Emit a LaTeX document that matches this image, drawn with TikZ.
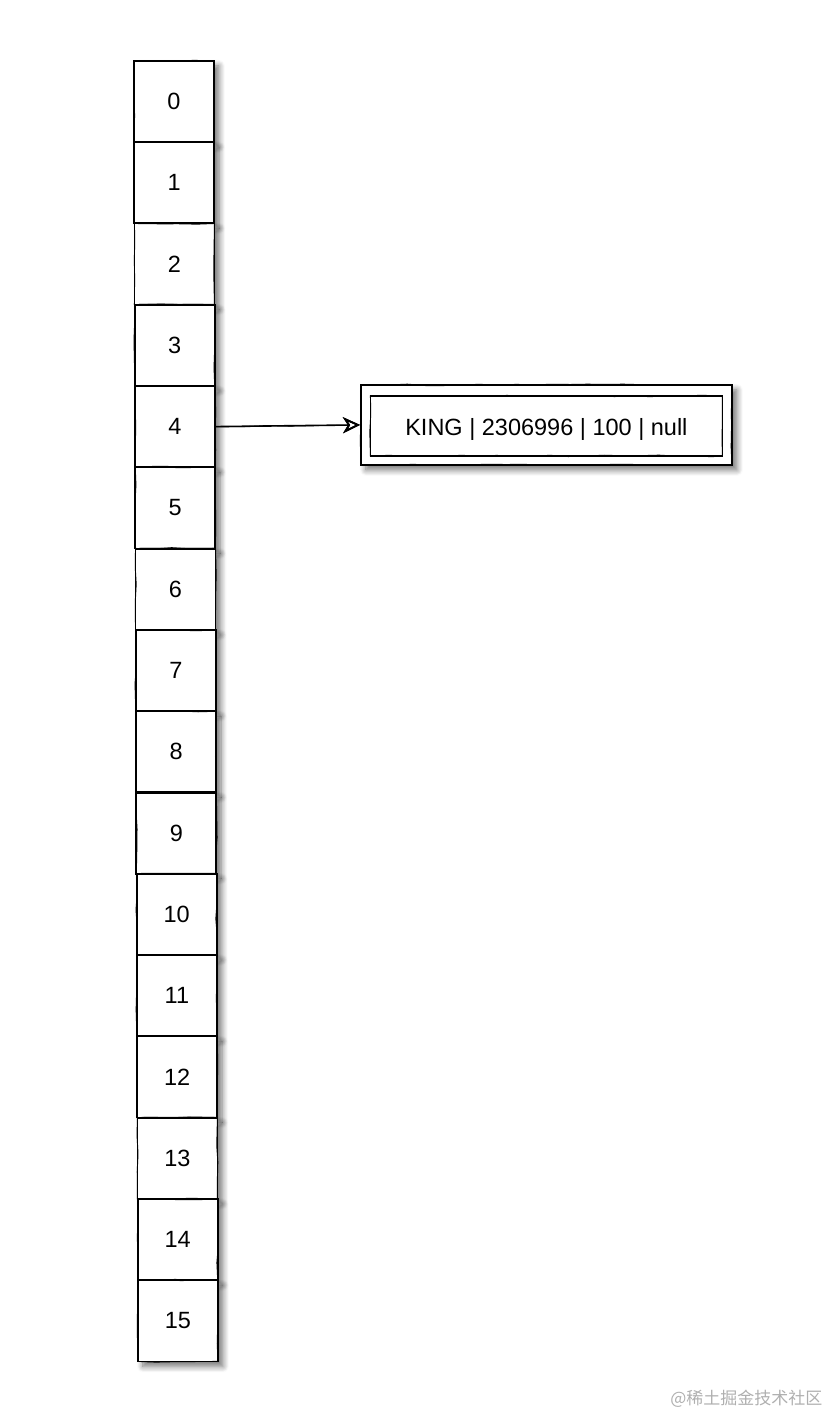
\documentclass[tikz,border=0pt]{standalone}
\usepackage{fontspec}
\setmainfont{Liberation Sans}
\newfontfamily\cjkfont{Noto Sans CJK SC}
\usetikzlibrary{arrows.meta,decorations.pathmorphing,shadows.blur}
\definecolor{wmgray}{RGB}{175,175,175}
\tikzset{
  sketch/.style={draw=black, line width=1.8pt,
    postaction={draw=black, line width=0.9pt, decorate,
      decoration={random steps, segment length=18pt, amplitude=0.8pt}}},
  shade/.style={blur shadow={shadow xshift=5pt, shadow yshift=-5pt, shadow blur steps=8,
      shadow blur radius=6pt, shadow opacity=55}},
  cell/.style={sketch, shade, fill=white, minimum width=80pt, minimum height=81pt,
    inner sep=0pt, anchor=north west, font=\fontsize{23.5}{26}\selectfont},
  outerrec/.style={sketch, shade, fill=white, minimum width=371pt, minimum height=80pt,
    inner sep=0pt, anchor=north west},
  innerrec/.style={sketch, minimum width=352pt, minimum height=60pt, inner sep=0pt,
    font=\fontsize{23.5}{26}\selectfont},
  link/.style={draw=black, line width=1.6pt, -{Stealth[open, length=17pt, width=16pt, inset=5pt, line width=1.8pt]},
    postaction={draw=black, line width=0.8pt, decorate,
      decoration={random steps, segment length=25pt, amplitude=0.6pt}}},
}
\begin{document}
\begin{tikzpicture}[x=1pt,y=-1pt]
\useasboundingbox (0,0) rectangle (832,1416);
\foreach \i in {0,...,15} {
  \node[cell] (b\i) at ({133+0.27*\i},{60+81.3*\i}) {\i};
}
\node[outerrec] (rec) at (360,384) {};
\node[innerrec, text depth=0pt] (inner) at ([yshift=-1pt]rec.center) {};
\node[font=\fontsize{23.5}{26}\selectfont, inner sep=0pt] (txt) at ([yshift=-5pt]rec.center) {KING | 2306996 | 100 | null};
\draw[link] (b4.east) -- (rec.west);
\node[anchor=east, text=wmgray, font=\cjkfont\fontsize{17}{20}\selectfont] (wm) at (826,1399) {@稀土掘金技术社区};
\end{tikzpicture}
\end{document}
